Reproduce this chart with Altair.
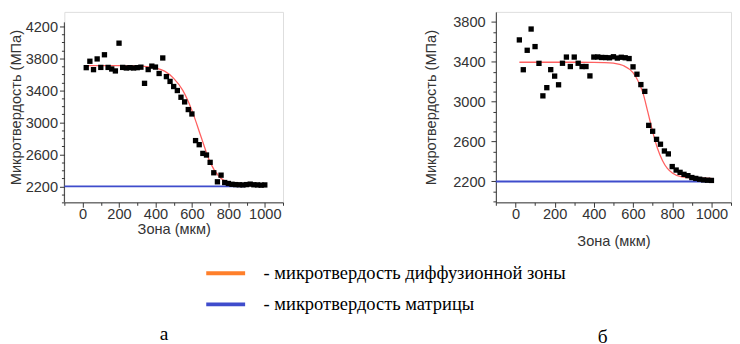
import altair as alt
import pandas as pd

# ---------------- data ----------------
zone_um = [20, 40, 60, 80, 100, 120, 140, 160, 180, 200,
           220, 240, 260, 280, 300, 320, 340, 360, 380, 400,
           420, 440, 460, 480, 500, 520, 540, 560, 580, 600,
           620, 640, 660, 680, 700, 720, 740, 760, 780, 800,
           820, 840, 860, 880, 900, 920, 940, 960, 980, 1000]

hv_a = [3684, 3764, 3659, 3793, 3687, 3845, 3687, 3667, 3643, 3990,
        3687, 3680, 3684, 3680, 3684, 3690, 3488, 3660, 3703, 3691,
        3611, 3805, 3572, 3512, 3448, 3398, 3314, 3256, 3160, 3105,
        2772, 2721, 2612, 2592, 2500, 2370, 2257, 2340, 2248, 2236,
        2226, 2222, 2220, 2218, 2222, 2228, 2220, 2218, 2215, 2218]

hv_b = [3619, 3320, 3515, 3728, 3552, 3384, 3058, 3140, 3321, 3256,
        3169, 3385, 3447, 3352, 3447, 3385, 3352, 3352, 3258, 3447,
        3448, 3443, 3442, 3440, 3450, 3437, 3445, 3440, 3432, 3349,
        3275, 3171, 3103, 2762, 2703, 2622, 2573, 2505, 2476, 2349,
        2314, 2291, 2271, 2258, 2239, 2230, 2222, 2215, 2212, 2210]

fit_a_x = [20, 100, 200, 300, 350, 400, 450, 500, 550, 600, 650, 700, 750, 800, 850, 900, 950, 1000]
fit_a_y = [3710, 3710, 3709, 3705, 3698, 3680, 3640, 3550, 3400, 3150, 2820, 2500, 2320, 2245, 2220, 2212, 2210, 2210]

fit_b_x = [20, 100, 200, 300, 400, 450, 500, 550, 600, 625, 650, 675, 700, 725, 750, 775, 800, 850, 900, 950, 1000]
fit_b_y = [3395, 3395, 3395, 3395, 3394, 3392, 3385, 3362, 3290, 3210, 3090, 2900, 2700, 2530, 2410, 2330, 2285, 2245, 2235, 2232, 2230]

matrix_level = 2200
matrix_a_span = [-100, 890]
matrix_b_span = [-100, 1000]

# y-axis line extent of panel "а" (its plot area reaches higher, axis line stops here)
axis_a_span = [2000, 4250]

legend_labels = ["- микротвердость диффузионной зоны", "- микротвердость матрицы"]
panel_labels = ["а", "б"]
x_title = "Зона (мкм)"
y_title = "Микротвердость (МПа)"

x_ticks = [-100, 0, 100, 200, 300, 400, 500, 600, 700, 800, 900, 1000, 1100]
y_ticks_a = [2000, 2100, 2200, 2300, 2400, 2500, 2600, 2700, 2800, 2900, 3000, 3100,
             3200, 3300, 3400, 3500, 3600, 3700, 3800, 3900, 4000, 4100, 4200]
y_ticks_b = [2000, 2100, 2200, 2300, 2400, 2500, 2600, 2700, 2800, 2900, 3000, 3100,
             3200, 3300, 3400, 3500, 3600, 3700, 3800]

# ---------------- style ----------------
AX_FONT = "Liberation Sans"
SERIF = "Liberation Serif"
TXT = "#333333"
RED = "#ff6060"
ORANGE = "#ff7f2a"
BLUE = "#3f4ccc"


def x_axis(title_pad):
    return alt.Axis(
        values=x_ticks, format="d",
        labelExpr="datum.value % 200 === 0 ? datum.label : ''",
        tickSize={"condition": {"test": "datum.value % 200 === 0", "value": 5}, "value": 3},
        title=x_title, titleFont=AX_FONT, titleFontSize=15, titleFontWeight="normal",
        titleColor=TXT, titlePadding=title_pad,
        labelFont=AX_FONT, labelFontSize=15, labelColor=TXT, labelPadding=0,
        labelOverlap=False, labelFlush=False, grid=False,
        domainColor=TXT, tickColor=TXT)


def y_axis(vals, title_pad, label_pad, show_domain):
    return alt.Axis(
        values=vals, format="d",
        labelExpr="(datum.value - 2200) % 400 === 0 ? datum.label : ''",
        tickSize={"condition": {"test": "(datum.value - 2200) % 400 === 0", "value": 5}, "value": 3},
        title=y_title, titleFont=AX_FONT, titleFontSize=15, titleFontWeight="normal",
        titleColor=TXT, titlePadding=title_pad,
        labelFont=AX_FONT, labelFontSize=15, labelColor=TXT, labelPadding=label_pad,
        labelOverlap=False, labelFlush=False, grid=False, domain=show_domain,
        domainColor=TXT, tickColor=TXT)


def panel(hv, fx, fy, span, ydom, yvals, w, h, xpad, ypad, lpad, label, dx, toff,
          with_legend, axis_span=None):
    pts_df = pd.DataFrame({"x": zone_um, "y": hv})
    fit_df = pd.DataFrame({"x": fx, "y": fy})
    mat_df = pd.DataFrame({"x": [span[0]], "x2": [span[1]], "y": [matrix_level],
                           "series": [legend_labels[1]]})
    xs = alt.Scale(domain=[-100, 1100], nice=False, zero=False)
    ys = alt.Scale(domain=ydom, nice=False, zero=False)
    X = alt.X("x:Q", scale=xs, axis=x_axis(xpad))
    Y = alt.Y("y:Q", scale=ys, axis=y_axis(yvals, ypad, lpad, axis_span is None))

    if with_legend:
        col = alt.Color("series:N",
                        scale=alt.Scale(domain=legend_labels, range=[ORANGE, BLUE]),
                        legend=alt.Legend(orient="none", legendX=144, legendY=247, title=None,
                                          symbolType="stroke", symbolSize=1600,
                                          symbolStrokeWidth=4, labelFont=SERIF,
                                          labelFontSize=19, labelColor="black",
                                          labelOffset=17, rowPadding=0, labelLimit=0))
    else:
        col = alt.value(BLUE)
    layers = []
    if axis_span is not None:
        ax_df = pd.DataFrame({"x": [-100], "y": [axis_span[0]], "y2": [axis_span[1]]})
        layers.append(alt.Chart(ax_df).mark_rule(color=TXT, strokeWidth=1).encode(
            x=X, y=Y, y2="y2:Q"))
    layers.append(alt.Chart(mat_df).mark_rule(strokeWidth=2).encode(x=X, x2="x2:Q", y=Y, color=col))
    layers.append(alt.Chart(fit_df).mark_line(color=RED, strokeWidth=1.3,
                                              interpolate="monotone").encode(x=X, y=Y))
    layers.append(alt.Chart(pts_df).mark_square(size=30, color="black", opacity=1).encode(x=X, y=Y))
    return alt.layer(*layers).properties(
        width=w, height=h,
        title=alt.TitleParams(label, orient="bottom", font=SERIF, fontSize=20,
                              fontWeight="normal", color="black", frame="group",
                              dx=dx, offset=toff))


left = panel(hv_a, fit_a_x, fit_a_y, matrix_a_span, [2000, 4381], y_ticks_a,
             225, 196, 0, 2, 2, panel_labels[0], -10, 91, True, axis_span=axis_a_span)
right = panel(hv_b, fit_b_x, fit_b_y, matrix_b_span, [1990, 3900], y_ticks_b,
              242, 196, 12, 15, 6, panel_labels[1], -11, 82, False)

chart = alt.hconcat(left, right, spacing=143).properties(
    padding={"left": 0, "top": -2, "right": 0, "bottom": 0}
).configure_view(stroke=None).configure(background="white")

chart.save("out.html", embed_options={"renderer": "svg", "actions": False})
